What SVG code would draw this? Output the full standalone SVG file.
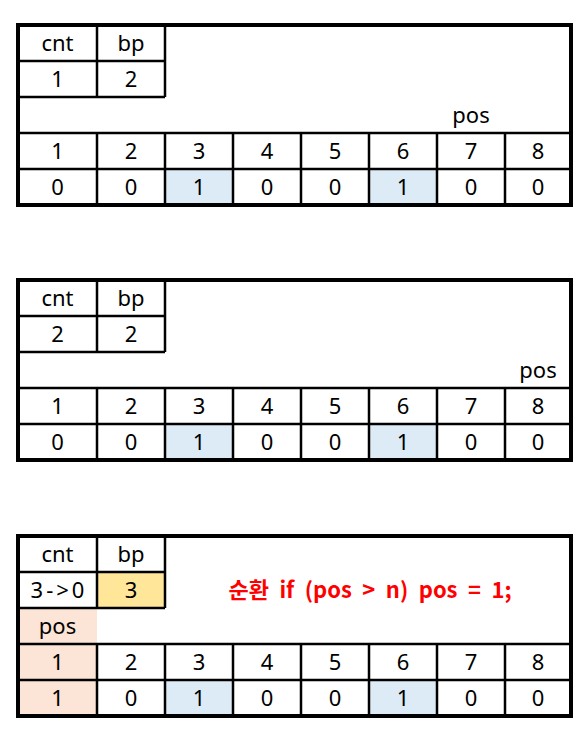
<svg xmlns="http://www.w3.org/2000/svg" width="588" height="730" viewBox="0 0 588 730">
<style>
.t{font-family:"Noto Sans","Noto Sans CJK KR",sans-serif;font-size:22px;fill:#000;text-anchor:middle}
.ln{stroke:#000;stroke-width:2.5;fill:none}
.out{stroke:#000;stroke-width:4;fill:none}
.blue{fill:#DDEBF7}
.yel{fill:#FFE699}
.pink{fill:#FCE4D6}
.red{font-family:"Noto Sans CJK KR","Noto Sans",sans-serif;font-size:22px;font-weight:bold;fill:#FF0000;text-anchor:middle;word-spacing:5.5px}
</style>
<rect width="588" height="730" fill="#fff"/>

<g id="panel1" transform="translate(0,25)">
  <rect class="blue" x="165" y="144" width="68" height="36"/>
  <rect class="blue" x="369" y="144" width="68" height="36"/>
  <path class="ln" d="M18 36H165M18 72H165M97 0V72M165 0V72M18 108H571M18 144H571M97 108V180M165 108V180M233 108V180M301 108V180M369 108V180M437 108V180M505 108V180"/>
  <rect class="out" x="18" y="0" width="553" height="180"/>
  <text class="t" x="57.5" y="26">cnt</text><text class="t" x="131" y="26">bp</text>
  <text class="t" x="57.5" y="62">1</text><text class="t" x="131" y="62">2</text>
  <text class="t" x="471" y="98">pos</text>
  <text class="t" x="57.5" y="134">1</text><text class="t" x="131" y="134">2</text><text class="t" x="199" y="134">3</text><text class="t" x="267" y="134">4</text><text class="t" x="335" y="134">5</text><text class="t" x="403" y="134">6</text><text class="t" x="471" y="134">7</text><text class="t" x="538" y="134">8</text>
  <text class="t" x="57.5" y="170">0</text><text class="t" x="131" y="170">0</text><text class="t" x="199" y="170">1</text><text class="t" x="267" y="170">0</text><text class="t" x="335" y="170">0</text><text class="t" x="403" y="170">1</text><text class="t" x="471" y="170">0</text><text class="t" x="538" y="170">0</text>
</g>

<g id="panel2" transform="translate(0,280)">
  <rect class="blue" x="165" y="144" width="68" height="36"/>
  <rect class="blue" x="369" y="144" width="68" height="36"/>
  <path class="ln" d="M18 36H165M18 72H165M97 0V72M165 0V72M18 108H571M18 144H571M97 108V180M165 108V180M233 108V180M301 108V180M369 108V180M437 108V180M505 108V180"/>
  <rect class="out" x="18" y="0" width="553" height="180"/>
  <text class="t" x="57.5" y="26">cnt</text><text class="t" x="131" y="26">bp</text>
  <text class="t" x="57.5" y="62">2</text><text class="t" x="131" y="62">2</text>
  <text class="t" x="538" y="98">pos</text>
  <text class="t" x="57.5" y="134">1</text><text class="t" x="131" y="134">2</text><text class="t" x="199" y="134">3</text><text class="t" x="267" y="134">4</text><text class="t" x="335" y="134">5</text><text class="t" x="403" y="134">6</text><text class="t" x="471" y="134">7</text><text class="t" x="538" y="134">8</text>
  <text class="t" x="57.5" y="170">0</text><text class="t" x="131" y="170">0</text><text class="t" x="199" y="170">1</text><text class="t" x="267" y="170">0</text><text class="t" x="335" y="170">0</text><text class="t" x="403" y="170">1</text><text class="t" x="471" y="170">0</text><text class="t" x="538" y="170">0</text>
</g>

<g id="panel3" transform="translate(0,536)">
  <rect class="yel" x="97" y="36" width="68" height="36"/>
  <rect class="pink" x="18" y="72" width="79" height="108"/>
  <rect class="blue" x="165" y="144" width="68" height="36"/>
  <rect class="blue" x="369" y="144" width="68" height="36"/>
  <path class="ln" d="M18 36H165M18 72H165M97 0V72M165 0V72M18 108H571M18 144H571M97 108V180M165 108V180M233 108V180M301 108V180M369 108V180M437 108V180M505 108V180"/>
  <rect class="out" x="18" y="0" width="553" height="180"/>
  <text class="t" x="57.5" y="26">cnt</text><text class="t" x="131" y="26">bp</text>
  <text class="t" x="59" y="62" letter-spacing="3">3-&gt;0</text><text class="t" x="131" y="62">3</text>
  <text class="t" x="57.5" y="98">pos</text>
  <text class="red" x="370" y="62">순환 if (pos &gt; n) pos = 1;</text>
  <text class="t" x="57.5" y="134">1</text><text class="t" x="131" y="134">2</text><text class="t" x="199" y="134">3</text><text class="t" x="267" y="134">4</text><text class="t" x="335" y="134">5</text><text class="t" x="403" y="134">6</text><text class="t" x="471" y="134">7</text><text class="t" x="538" y="134">8</text>
  <text class="t" x="57.5" y="170">1</text><text class="t" x="131" y="170">0</text><text class="t" x="199" y="170">1</text><text class="t" x="267" y="170">0</text><text class="t" x="335" y="170">0</text><text class="t" x="403" y="170">1</text><text class="t" x="471" y="170">0</text><text class="t" x="538" y="170">0</text>
</g>
</svg>
